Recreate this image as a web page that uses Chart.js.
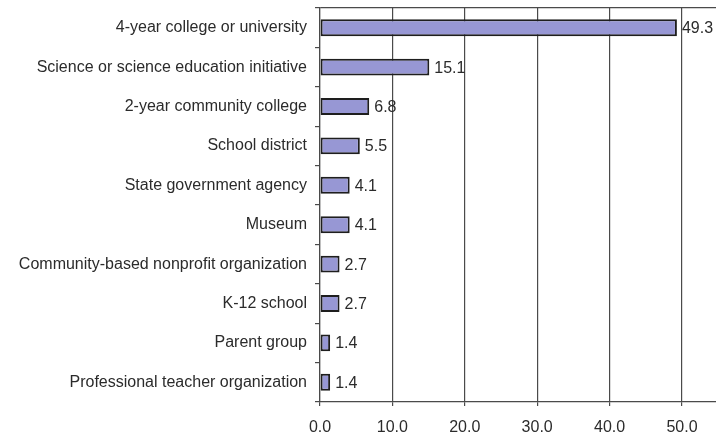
<html lang="en">
<head>
    <meta charset="UTF-8">
    <title>Partner organizations</title>
    <script src="https://cdn.jsdelivr.net/npm/chart.js"></script>
    <style>
        body { margin: 0; background: #fff; }
        #wrap { width: 716px; height: 435px; }
    </style>
</head>
<body>
    <div id="wrap"><canvas id="myChart" width="716" height="435"></canvas></div>

    <script>
        // kategorier og procenter
        let categories = [
            "4-year college or university",
            "Science or science education initiative",
            "2-year community college",
            "School district",
            "State government agency",
            "Museum",
            "Community-based nonprofit organization",
            "K-12 school",
            "Parent group",
            "Professional teacher organization"
        ];
        let values = [49.3, 15.1, 6.8, 5.5, 4.1, 4.1, 2.7, 2.7, 1.4, 1.4];
        let xTicks = [0, 10, 20, 30, 40, 50];

        let lineColor = "#4a4a4a";
        let textColor = "#2b2b2b";
        let fontFamily = "'Liberation Sans', Arial, sans-serif";

        // tegner tallet ved enden af hver bjælke
        let valueLabels = {
            id: "valueLabels",
            afterDatasetsDraw(chart) {
                let ctx = chart.ctx;
                let meta = chart.getDatasetMeta(0);
                ctx.save();
                ctx.font = "16px " + fontFamily;
                ctx.fillStyle = textColor;
                ctx.textAlign = "left";
                ctx.textBaseline = "middle";
                meta.data.forEach((bar, i) => {
                    ctx.fillText(values[i].toFixed(1), bar.x + 5, bar.y + 1);
                });
                ctx.restore();
            }
        };

        let ctx = document.getElementById("myChart").getContext("2d");
        let myChart = new Chart(ctx, {
            type: "bar",
            data: {
                labels: categories,
                datasets: [{
                    data: values,
                    backgroundColor: "#9797d4",
                    borderColor: "#1e1e1e",
                    borderWidth: 2,
                    borderSkipped: false,
                    categoryPercentage: 1,
                    barPercentage: 0.43
                }]
            },
            options: {
                indexAxis: "y",
                responsive: false,
                animation: false,
                layout: { padding: { top: 8, right: 0, bottom: 0, left: 0 } },
                plugins: {
                    legend: { display: false },
                    tooltip: { enabled: false }
                },
                scales: {
                    x: {
                        min: 0,
                        max: 54.7,
                        afterBuildTicks: (scale) => {
                            scale.ticks = xTicks.map(v => ({ value: v }));
                        },
                        afterFit: (scale) => { scale.height = 33; },
                        ticks: {
                            includeBounds: false,
                            maxRotation: 0,
                            padding: 12,
                            color: textColor,
                            font: { family: fontFamily, size: 16 },
                            callback: (v) => Number(v).toFixed(1)
                        },
                        grid: {
                            color: lineColor,
                            lineWidth: 1.2,
                            tickLength: 4
                        },
                        border: { color: lineColor, width: 1.2 }
                    },
                    y: {
                        afterFit: (scale) => {
                            scale.width = 320;
                            // ingen ekstra plads over/under til etiketterne
                            scale.paddingTop = 0;
                            scale.paddingBottom = 0;
                        },
                        ticks: {
                            padding: 8,
                            color: textColor,
                            font: { family: fontFamily, size: 16 }
                        },
                        grid: {
                            offset: true,
                            color: (c) => c.index === 0 ? lineColor : "transparent",
                            tickColor: lineColor,
                            lineWidth: 1.2,
                            tickLength: 5
                        },
                        border: { color: lineColor, width: 1.2 }
                    }
                }
            },
            plugins: [valueLabels]
        });
    </script>
</body>
</html>
